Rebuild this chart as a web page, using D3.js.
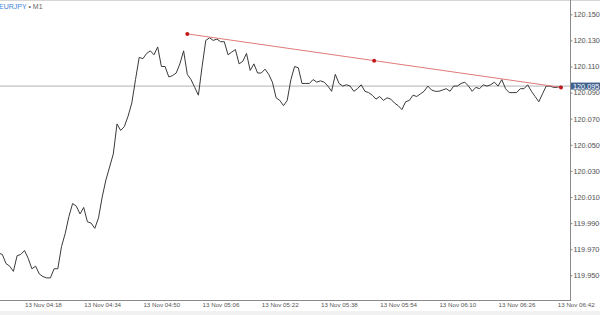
<!DOCTYPE html>
<html lang="en">
<head>
<meta charset="utf-8">
<script src="https://d3js.org/d3.v7.min.js"></script>
<style>
  body { margin: 0; background: #fff; }
  text { font-family: "Liberation Sans", Arial, sans-serif; }
  .grid line { stroke: #dddddd; stroke-dasharray: 2,2; }
  .grid path { display: none; }
</style>
</head>
<body>
<svg id="chart" width="600" height="315"></svg>
<script>
// EURJPY M1 closes, one per minute starting at 04:11
var startTime = "04:11";
var closes = [
  119.967, 119.966, 119.959, 119.957, 119.953, 119.965, 119.966, 119.969, 119.963, 119.955,
  119.957, 119.951, 119.949, 119.948, 119.948, 119.955, 119.955, 119.972, 119.982, 119.995,
  120.005, 120.003, 119.997, 120.002, 119.991, 119.990, 119.986, 119.994, 120.010, 120.023,
  120.033, 120.043, 120.066, 120.061, 120.064, 120.072, 120.082, 120.100, 120.117, 120.116,
  120.120, 120.122, 120.119, 120.125, 120.110, 120.110, 120.102, 120.103, 120.105, 120.112,
  120.122, 120.104, 120.100, 120.094, 120.088, 120.110, 120.130, 120.132, 120.130, 120.131,
  120.129, 120.129, 120.119, 120.121, 120.123, 120.112, 120.114, 120.120, 120.107, 120.112,
  120.105, 120.105, 120.108, 120.104, 120.098, 120.086, 120.084, 120.080, 120.084, 120.100,
  120.110, 120.109, 120.097, 120.097, 120.097, 120.100, 120.098, 120.099, 120.098, 120.095,
  120.091, 120.104, 120.097, 120.095, 120.096, 120.095, 120.091, 120.093, 120.096, 120.091,
  120.090, 120.088, 120.085, 120.087, 120.084, 120.086, 120.085, 120.082, 120.080, 120.077,
  120.083, 120.084, 120.088, 120.087, 120.089, 120.091, 120.095, 120.092, 120.091, 120.091,
  120.092, 120.093, 120.091, 120.095, 120.095, 120.097, 120.098, 120.095, 120.091, 120.094,
  120.093, 120.096, 120.095, 120.096, 120.098, 120.095, 120.100, 120.093, 120.090, 120.090,
  120.090, 120.093, 120.093, 120.096, 120.091, 120.087, 120.083, 120.089, 120.095, 120.095,
  120.094, 120.094, 120.095
];

// trend line drawn on the chart (start / end handles)
var trendTimes = ["05:02", "06:43"];
var trendPrices = [120.135, 120.094];

var yTicks = [119.950, 119.970, 119.990, 120.010, 120.030, 120.050, 120.070, 120.090, 120.110, 120.130, 120.150];
var xLabelTimes = ["04:18", "04:34", "04:50", "05:06", "05:22", "05:38", "05:54", "06:10", "06:26", "06:42"];
var symbol = "EURJPY";
var period = "M1";

var parse = function (s) {
  var p = s.split(":");
  return new Date(2014, 10, 13, +p[0], +p[1]);
};

var series = closes.map(function (c, i) {
  return { t: d3.timeMinute.offset(parse(startTime), i), v: c };
});
var last = closes[closes.length - 1];

var W = 570, H = 300;
var svg = d3.select("#chart");

var x = d3.scaleTime()
  .domain([parse("04:18"), parse("06:42")])
  .range([24.5, 557.3]);
var y = d3.scaleLinear()
  .domain([119.950, 120.150])
  .range([275.3, 14.3]);

svg.append("defs").append("clipPath").attr("id", "clip")
  .append("rect").attr("x", 0).attr("y", 0).attr("width", W).attr("height", H);

// grid: vertical every 8 minutes, horizontal at price ticks
svg.append("g")
  .attr("class", "grid")
  .attr("transform", "translate(0," + H + ")")
  .call(d3.axisBottom(x)
    .tickValues(d3.timeMinute.every(8).range(parse("04:10"), parse("06:50"))
      .filter(function (d) { return (d3.timeMinute.count(parse("04:18"), d) % 8) === 0; }))
    .tickSize(-H).tickFormat(""));
svg.append("g")
  .attr("class", "grid")
  .call(d3.axisLeft(y).tickValues(yTicks).tickSize(-W).tickFormat(""))
  .attr("transform", "translate(" + W + ",0)");

// frame
svg.append("line").attr("x1", 0).attr("x2", 600).attr("y1", 0.5).attr("y2", 0.5).attr("stroke", "#d6d6d6");
svg.append("rect").attr("x", 0).attr("y", 311).attr("width", 600).attr("height", 4).attr("fill", "#f1f1f1");

var plot = svg.append("g").attr("clip-path", "url(#clip)");

// current price line
plot.append("line")
  .attr("x1", 0).attr("x2", W)
  .attr("y1", y(last)).attr("y2", y(last))
  .attr("stroke", "#b4b4b4").attr("stroke-width", 1);

// price line
plot.append("path")
  .datum(series)
  .attr("fill", "none")
  .attr("stroke", "#3a3a3a")
  .attr("stroke-width", 1)
  .attr("stroke-linejoin", "round")
  .attr("d", d3.line().x(function (d) { return x(d.t); }).y(function (d) { return y(d.v); }));

// trend line with handles
var tp = trendTimes.map(function (t, i) { return { t: parse(t), v: trendPrices[i] }; });
var mid = { t: new Date((tp[0].t.getTime() + tp[1].t.getTime()) / 2), v: (tp[0].v + tp[1].v) / 2 };
plot.append("line")
  .attr("x1", x(tp[0].t)).attr("y1", y(tp[0].v))
  .attr("x2", x(tp[1].t)).attr("y2", y(tp[1].v))
  .attr("stroke", "#e07a7a").attr("stroke-width", 1);
plot.selectAll("circle.handle")
  .data([tp[0], mid, tp[1]])
  .enter().append("circle")
  .attr("class", "handle")
  .attr("cx", function (d) { return x(d.t); })
  .attr("cy", function (d) { return y(d.v); })
  .attr("r", 2)
  .attr("fill", "#c21a1a");

// axes lines
svg.append("line").attr("x1", 0).attr("x2", W).attr("y1", H + 0.5).attr("y2", H + 0.5).attr("stroke", "#8a8a8a");
svg.append("line").attr("x1", W + 0.5).attr("x2", W + 0.5).attr("y1", 0).attr("y2", H + 1).attr("stroke", "#8a8a8a");

// y axis
var yAxis = svg.append("g")
  .attr("transform", "translate(" + (W + 0.5) + ",0)")
  .call(d3.axisRight(y).tickValues(yTicks).tickSize(2).tickPadding(1).tickFormat(d3.format(".3f")));
yAxis.select(".domain").remove();
yAxis.selectAll("line").attr("stroke", "#8a8a8a");
yAxis.selectAll("text").attr("font-size", 7.3).attr("fill", "#555").attr("font-family", "Liberation Sans, Arial, sans-serif");

// x axis labels (left aligned at grid line)
var xAxis = svg.append("g")
  .attr("transform", "translate(0," + H + ")")
  .call(d3.axisBottom(x).tickValues(xLabelTimes.map(parse)).tickSize(0).tickPadding(3)
    .tickFormat(d3.timeFormat("%d %b %H:%M")));
xAxis.select(".domain").remove();
xAxis.selectAll("text")
  .attr("text-anchor", "start")
  .attr("font-size", 6.2)
  .attr("fill", "#555")
  .attr("font-family", "Liberation Sans, Arial, sans-serif");

// current price tag
var tag = svg.append("g").attr("transform", "translate(" + (W + 1) + "," + y(last) + ")");
tag.append("rect").attr("x", 0).attr("y", -3.5).attr("width", 29).attr("height", 7).attr("fill", "#41618f");
tag.append("text").attr("x", 2).attr("y", 2.6).attr("font-size", 7.3).attr("fill", "#fff")
  .text(d3.format(".3f")(last));

// title
var title = svg.append("text").attr("x", -1).attr("y", 8.5).attr("font-size", 7);
title.append("tspan").attr("fill", "#3f7fd6").text(symbol);
title.append("tspan").attr("fill", "#666").text(" \u2022 " + period);
</script>
</body>
</html>
